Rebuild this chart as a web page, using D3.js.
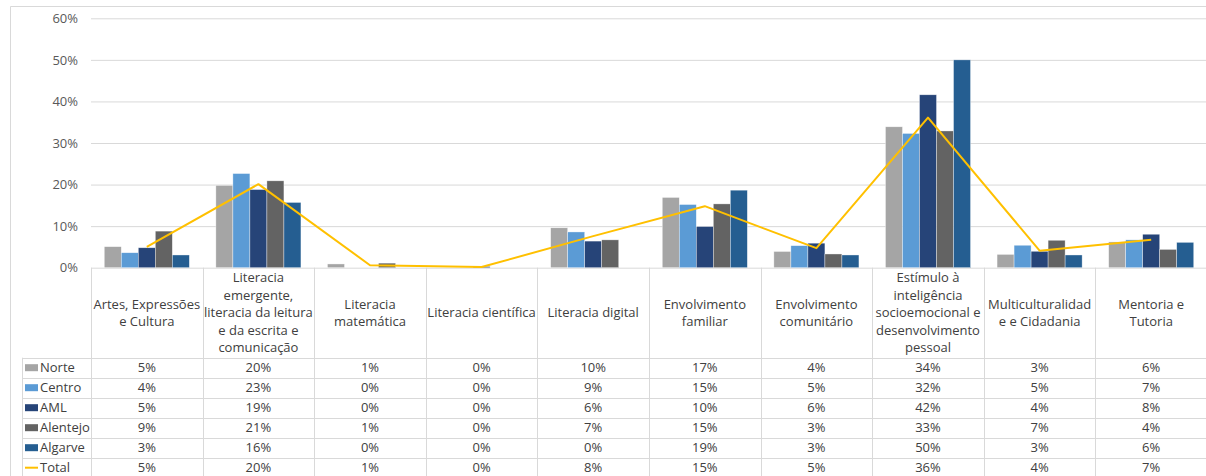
<!DOCTYPE html>
<html>
<head>
<meta charset="utf-8">
<script src="https://cdn.jsdelivr.net/npm/d3@7"></script>
<style>
  body { margin: 0; background: #fff; }
  svg { display: block; font-family: "Open Sans", sans-serif; }
</style>
</head>
<body>
<svg id="chart" width="1206" height="476"></svg>
<script>
  // categories, header lines split as in the source table
  const categories = [
    "Artes, Expressões\ne Cultura",
    "Literacia\nemergente,\nliteracia da leitura\ne da escrita e\ncomunicação",
    "Literacia\nmatemática",
    "Literacia científica",
    "Literacia digital",
    "Envolvimento\nfamiliar",
    "Envolvimento\ncomunitário",
    "Estímulo à\ninteligência\nsocioemocional e\ndesenvolvimento\npessoal",
    "Multiculturalidad\ne e Cidadania",
    "Mentoria e\nTutoria"
  ];

  // values in %
  const norte    = [5.06, 19.8, 0.9, 0, 9.6, 16.9, 3.9, 33.9, 3.2, 6.2];
  const centro   = [3.6, 22.65, 0, 0, 8.6, 15.2, 5.3, 32.3, 5.4, 6.7];
  const aml      = [4.8, 18.8, 0, 0.3, 6.4, 9.9, 5.9, 41.6, 3.95, 8.05];
  const alentejo = [8.8, 20.9, 1.1, 0, 6.7, 15.35, 3.3, 32.9, 6.6, 4.4];
  const algarve  = [3.06, 15.7, 0, 0, 0, 18.65, 3.06, 50.0, 3.06, 6.1];
  const total    = [5.0, 20.1, 0.6, 0.15, 7.6, 14.8, 4.7, 36.1, 4.1, 6.7];

  const yTicks = [0, 10, 20, 30, 40, 50, 60];

  const series = [
    { name: "Norte", values: norte, color: "#A5A5A5" },
    { name: "Centro", values: centro, color: "#5B9BD5" },
    { name: "AML", values: aml, color: "#264478" },
    { name: "Alentejo", values: alentejo, color: "#636363" },
    { name: "Algarve", values: algarve, color: "#255E91" }
  ];
  const totalSeries = { name: "Total", values: total, color: "#FFC000" };

  const svg = d3.select("#chart");
  const plot = { left: 91, right: 1207, top: 18.3, bottom: 267.7 };
  const headerH = 90, rowH = 20, tableLeft = 22;
  const gridColor = "#d9d9d9", textColor = "#404040";
  const fmt = d3.format(".0%");

  const x0 = d3.scaleBand().domain(d3.range(categories.length)).range([plot.left, plot.right]);
  const x1 = d3.scaleBand().domain(series.map(d => d.name)).range([0, x0.bandwidth()]).paddingOuter(0.78);
  const y = d3.scaleLinear().domain([0, 60]).range([plot.bottom, plot.top]);

  // outer frame
  svg.append("line").attr("x1", 10.5).attr("x2", 1206).attr("y1", 6.5).attr("y2", 6.5).attr("stroke", gridColor);
  svg.append("line").attr("x1", 10.5).attr("x2", 10.5).attr("y1", 6.5).attr("y2", 476).attr("stroke", gridColor);

  // gridlines + y labels
  const yAxis = svg.append("g")
    .attr("transform", `translate(${plot.left},0)`)
    .call(d3.axisLeft(y).tickValues(yTicks).tickSize(-(plot.right - plot.left)).tickFormat(d => d + "%"));
  yAxis.select(".domain").remove();
  yAxis.selectAll(".tick line").attr("stroke", gridColor).attr("stroke-width", 1);
  yAxis.selectAll(".tick text").attr("x", -13).attr("fill", "#595959")
    .style("font-size", "13px").style("font-family", "Open Sans, sans-serif");

  // bars
  const groups = svg.append("g").selectAll("g")
    .data(categories.map((c, i) => i))
    .join("g")
    .attr("transform", i => `translate(${x0(i)},0)`);

  groups.selectAll("rect")
    .data(i => series.map(s => ({ name: s.name, color: s.color, v: s.values[i] })))
    .join("rect")
    .attr("x", d => x1(d.name))
    .attr("width", x1.bandwidth())
    .attr("y", d => y(d.v))
    .attr("height", d => y(0) - y(d.v))
    .attr("fill", d => d.color)
    .attr("stroke", d => d.v > 0 ? "rgba(255,255,255,0.6)" : "none")
    .attr("stroke-width", 0.6);

  // total line
  svg.append("path")
    .datum(total)
    .attr("fill", "none")
    .attr("stroke", totalSeries.color)
    .attr("stroke-width", 2)
    .attr("stroke-linejoin", "round")
    .attr("d", d3.line().x((d, i) => x0(i) + x0.bandwidth() / 2).y(d => y(d)));

  // data table
  const table = svg.append("g");
  const rowsTop = plot.bottom + headerH;
  const tableBottom = rowsTop + rowH * 6;

  // vertical separators
  x0.domain().concat([categories.length]).forEach(i => {
    const xx = i < categories.length ? x0(i) : plot.right;
    table.append("line")
      .attr("x1", Math.round(xx) + 0.5).attr("x2", Math.round(xx) + 0.5)
      .attr("y1", plot.bottom).attr("y2", tableBottom)
      .attr("stroke", gridColor);
  });
  table.append("line")
    .attr("x1", tableLeft + 0.5).attr("x2", tableLeft + 0.5)
    .attr("y1", rowsTop).attr("y2", tableBottom).attr("stroke", gridColor);

  // horizontal separators
  d3.range(7).forEach(r => {
    const yy = Math.round(rowsTop + r * rowH) + 0.5;
    table.append("line")
      .attr("x1", tableLeft).attr("x2", plot.right)
      .attr("y1", yy).attr("y2", yy).attr("stroke", gridColor);
  });

  // header labels
  categories.forEach((c, i) => {
    const lines = c.split("\n");
    const lh = 17.5;
    const cy = plot.bottom + headerH / 2;
    const t = table.append("text")
      .attr("x", x0(i) + x0.bandwidth() / 2)
      .attr("text-anchor", "middle")
      .attr("fill", textColor)
      .style("font-size", "13px");
    lines.forEach((l, k) => {
      t.append("tspan")
        .attr("x", x0(i) + x0.bandwidth() / 2)
        .attr("y", cy + (k - (lines.length - 1) / 2) * lh)
        .attr("dy", "0.35em")
        .text(l);
    });
  });

  // rows
  series.concat([totalSeries]).forEach((s, r) => {
    const cy = rowsTop + r * rowH + rowH / 2;
    if (s.name === "Total") {
      table.append("line").attr("x1", 25).attr("x2", 38).attr("y1", cy).attr("y2", cy)
        .attr("stroke", s.color).attr("stroke-width", 2);
    } else {
      table.append("rect").attr("x", 25).attr("y", cy - 3.5).attr("width", 13).attr("height", 7)
        .attr("fill", s.color);
    }
    table.append("text")
      .attr("x", 40).attr("y", cy).attr("dy", "0.35em")
      .attr("fill", textColor).style("font-size", "13px")
      .text(s.name);
    s.values.forEach((v, i) => {
      table.append("text")
        .attr("x", x0(i) + x0.bandwidth() / 2).attr("y", cy).attr("dy", "0.35em")
        .attr("text-anchor", "middle")
        .attr("fill", textColor).style("font-size", "13px")
        .text(fmt(v / 100));
    });
  });
</script>
</body>
</html>
